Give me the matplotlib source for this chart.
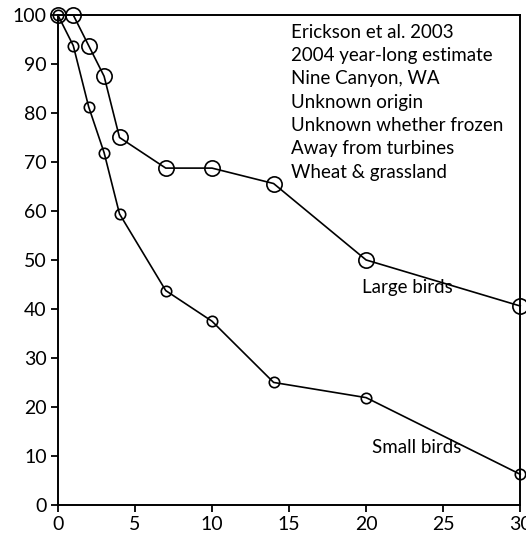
import matplotlib
matplotlib.use('Agg')
import matplotlib.pyplot as plt

days = [0, 1, 2, 3, 4, 7, 10, 14, 20, 30]
large_birds = [100, 100, 93.75, 87.5, 75, 68.75, 68.75, 65.6, 50, 40.6]
small_birds = [100, 93.75, 81.25, 71.9, 59.4, 43.75, 37.5, 25, 21.9, 6.25]

notes = [
    'Erickson et al. 2003',
    '2004 year-long estimate',
    'Nine Canyon, WA',
    'Unknown origin',
    'Unknown whether frozen',
    'Away from turbines',
    'Wheat & grassland',
]

plt.rcParams['font.family'] = ['Lato', 'DejaVu Sans']

fig = plt.figure(figsize=(5.26, 5.36), dpi=100)
ax = fig.add_axes([0.110, 0.058, 0.879, 0.914])

ax.plot(days, large_birds, color='black', lw=1.2, marker='o', markersize=11,
        markerfacecolor='none', markeredgecolor='black', markeredgewidth=1.2, clip_on=False)
ax.plot(days, small_birds, color='black', lw=1.2, marker='o', markersize=7.5,
        markerfacecolor='none', markeredgecolor='black', markeredgewidth=1.2, clip_on=False)

ax.set_xlim(0, 30)
ax.set_ylim(0, 100)
ax.set_xticks(range(0, 31, 5))
ax.set_yticks(range(0, 101, 10))
ax.tick_params(direction='out', length=5, width=1.3, labelsize=14, colors='black', pad=3)
for s in ax.spines.values():
    s.set_linewidth(1.4)

ax.text(15.1, 98.2, '\n'.join(notes), fontsize=13.5, va='top', ha='left', linespacing=1.45)
ax.text(22.7, 44.3, 'Large birds', fontsize=13.5, ha='center', va='center')
ax.text(23.3, 11.8, 'Small birds', fontsize=13.5, ha='center', va='center')

fig.savefig('out.png', dpi=100)
